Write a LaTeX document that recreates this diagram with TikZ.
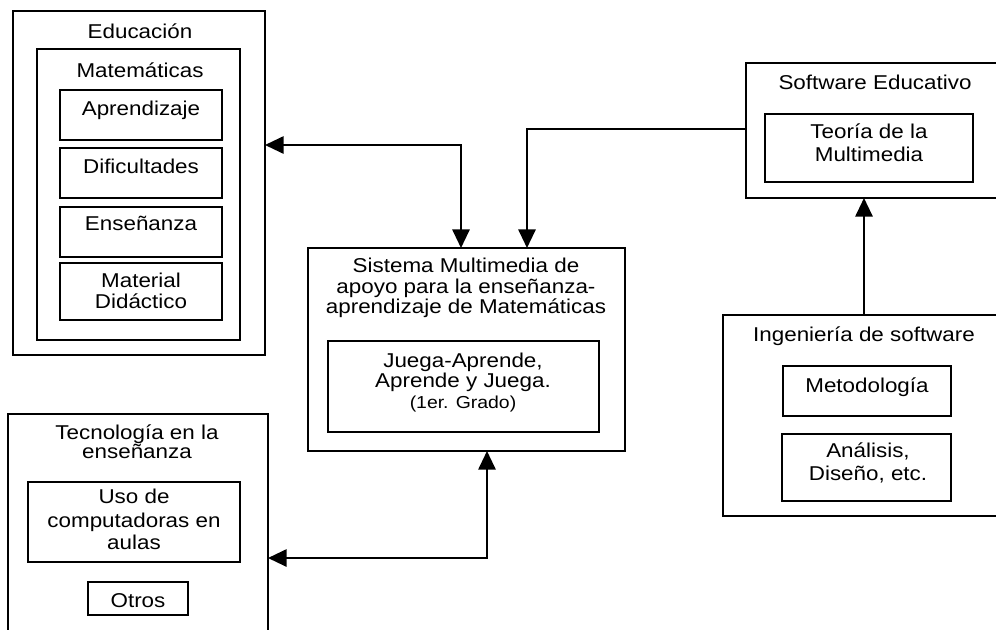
\documentclass[tikz,border=0pt]{standalone}
\usepackage{fontspec}
\setmainfont{Liberation Sans}[FakeStretch=1.12]
\usetikzlibrary{arrows.meta,fit}
\begin{document}
\begin{tikzpicture}[x=0.75pt,y=-0.75pt,
  bx/.style={draw, line width=1.5pt, inner sep=0pt, outer sep=0pt},
  tx/.style={anchor=base, inner sep=0pt, font=\fontsize{15}{16}\selectfont},
  sm/.style={anchor=base, inner sep=0pt, font=\fontsize{13}{14}\selectfont},
  ln/.style={line width=1.5pt},
  tip/.style={-{Triangle[length=14pt,width=13pt]}},
  tips/.style={{Triangle[length=14pt,width=13pt]}-{Triangle[length=14pt,width=13pt]}}]
\useasboundingbox (0,0) rectangle (996,629);
\fill[white] (0,0) rectangle (996,629);
\clip (0,0) rectangle (996,629);
% Educacion
\node[bx, fit={(13,11) (265,355)}] (edu) {};
\node[bx, fit={(37,49) (240,340)}] (mat) {};
\node[bx, fit={(60,90) (222,140)}] (apr) {};
\node[bx, fit={(60,148) (222,198)}] (dif) {};
\node[bx, fit={(60,207) (222,257)}] (ens) {};
\node[bx, fit={(60,263) (222,320)}] (mdi) {};
\node[tx] (tedu) at (140,38) {Educación};
\node[tx] (tmat) at (140,77) {Matemáticas};
\node[tx] (tapr) at (141,115) {Aprendizaje};
\node[tx] (tdif) at (141,173) {Dificultades};
\node[tx] (tens) at (141,230) {Enseñanza};
\node[tx] (tmd1) at (141,287) {Material};
\node[tx] (tmd2) at (141,308) {Didáctico};
% Sistema
\node[bx, fit={(308,248) (625,451)}] (sis) {};
\node[bx, fit={(328,341) (599,432)}] (jue) {};
\node[tx] (ts1) at (466,272) {Sistema Multimedia de};
\node[tx] (ts2) at (466,293) {apoyo para la enseñanza-};
\node[tx] (ts3) at (466,313) {aprendizaje de Matemáticas};
\node[tx] (tj1) at (463,367) {Juega-Aprende,};
\node[tx] (tj2) at (463,387) {Aprende y Juega.};
\node[sm] (tj3) at (463,408) {(1er. Grado)};
% Software educativo
\node[bx, fit={(746,63) (1002,198)}] (sw) {};
\node[bx, fit={(765,114) (973,182)}] (teo) {};
\node[tx] (tsw) at (875,89) {Software Educativo};
\node[tx] (tte1) at (869,138) {Teoría de la};
\node[tx] (tte2) at (869,161) {Multimedia};
% Ingenieria
\node[bx, fit={(723,315) (1002,516)}] (ing) {};
\node[bx, fit={(783,366) (951,416)}] (met) {};
\node[bx, fit={(782,434) (951,501)}] (ana) {};
\node[tx] (ting) at (864,341) {Ingeniería de software};
\node[tx] (tmet) at (867,392) {Metodología};
\node[tx] (tan1) at (868,457) {Análisis,};
\node[tx] (tan2) at (868,480) {Diseño, etc.};
% Tecnologia
\node[bx, fit={(8,414) (268,645)}] (tec) {};
\node[bx, fit={(28,482) (240,562)}] (uso) {};
\node[bx, fit={(88,582) (188,615)}] (otr) {};
\node[tx] (tte) at (137,439) {Tecnología en la};
\node[tx] (tte3) at (137,458) {enseñanza};
\node[tx] (tu1) at (134,503) {Uso de};
\node[tx] (tu2) at (134,527) {computadoras en};
\node[tx] (tu3) at (134,549) {aulas};
\node[tx] (tot) at (138,607) {Otros};
% connectors
\coordinate (j1) at (461,145);
\coordinate (j2) at (527,129);
\coordinate (j3) at (864,250);
\coordinate (j4) at (487,558);
\draw[ln,tips] (j1 -| edu.east) -- (j1) -- (j1 |- sis.north);
\draw[ln,tip] (j2 -| sw.west) -- (j2) -- (j2 |- sis.north);
\draw[ln,tip] (j3 |- ing.north) -- (j3 |- sw.south);
\draw[ln,tips] (j4 -| tec.east) -- (j4) -- (j4 |- sis.south);
\end{tikzpicture}
\end{document}
